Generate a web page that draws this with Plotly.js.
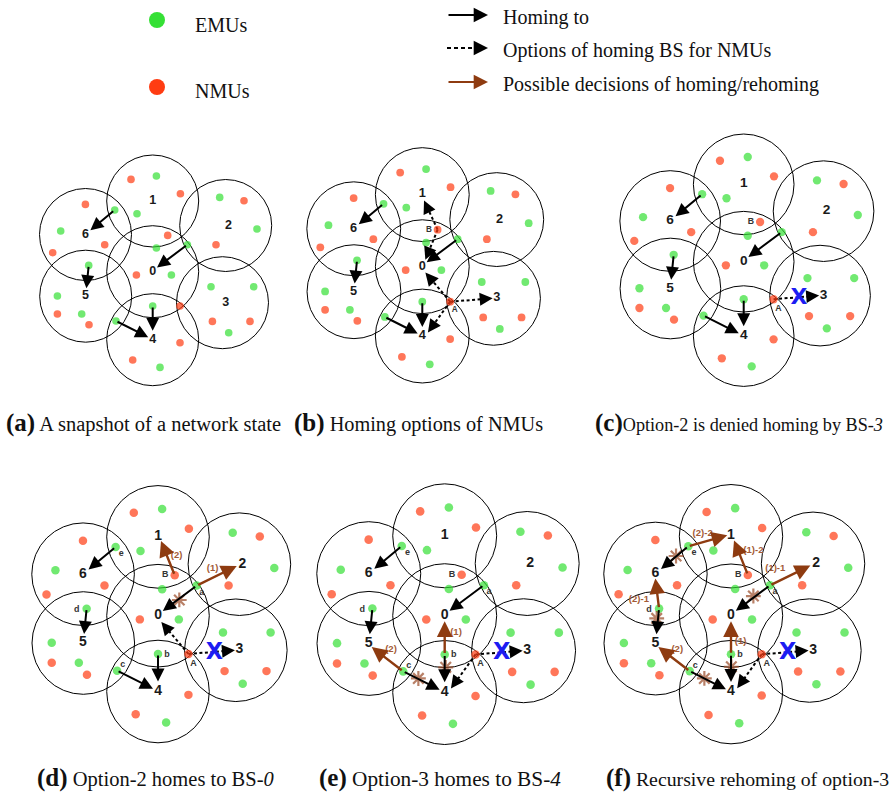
<!DOCTYPE html>
<html><head><meta charset="utf-8">
<script src="https://cdn.plot.ly/plotly-3.0.1.min.js"></script>
<style>html,body{margin:0;padding:0;background:#fff}</style>
</head><body><div id="chart" style="width:894px;height:794px"></div>
<script>
// ---------- panels ----------
const panelNames = ['a','b','c','d','e','f'];
const panelCx = [152.7, 422.3, 743.7, 158, 444.7, 731];
const panelCy = [271.7, 266.7, 261.7, 615.7, 615.7, 615.7];
const panelScale = [1.0, 1.02, 1.094, 1.115, 1.13, 1.124];

// ---------- base stations (relative to BS-0) ----------
const bsNames = ['0','1','2','3','4','5','6'];
const cellX = [0, 0, 73, 69.8, 0, -67, -67.2];
const cellY = [0, -70.7, -46.2, 31, 68, 24.5, -37.2];
const cellR = 46;
const bsLabelX = [0, 0, 75.7, 73, 0, -67.3, -67.3];
const bsLabelY = [0, -71, -46.3, 30.7, 67.7, 24.3, -37.3];

// ---------- mobile users ----------
const emuX = [3.7, -15.7, -38, -92, 3.7, 34.7, 18.7, 0, 67, 104.3, 58.3, 101, 76, -64, -95.3, -71, -36.7, 7.3];
const emuY = [-95.7, -58, -61.7, -40.7, -23.7, -27, 3.3, 34.3, -74.3, -42.7, 15, 15, 61, -6.3, 24.3, 42.3, 49.3, 95.7];
const nmuX = [-21.7, 27.7, -67.3, -48, -100, 15, -16.3, 27.3, 91.3, 63.3, 59.7, 97.3, -95.3, -63.7, 27.3, -20];
const nmuY = [-92.3, -78, -67.3, -27, -19, -36.3, 3.3, 34.3, -71, -27, 49.7, 49.7, 42.3, 53, 71, 88.3];

// named users
const userNames = ['a','b','c','d','e','A','B'];
const userX = [34.7, 0, -36.7, -64, -38, 27.3, 15];
const userY = [-27, 34.3, 49.3, -6.3, -61.7, 34.3, -36.3];
const userLabelDX = [4.5, 8, 5, -9, 5, 4.5, -8.5];
const userLabelDY = [6, 0.5, -5, 1, 6, 8.5, 0];
const panelUserLabels = [[], ['A','B'], ['A','B'], ['a','b','c','d','e','A','B'], ['a','b','c','d','e','A','B'], ['a','b','c','d','e','A','B']];

// ---------- arrows ----------
const arrowNames = ['e6','a0','d5','b4','c4','B1o','B0o','A0o','A3o','A4o','a2','B1','b0','c5','e1','d6'];
const arrowFrom  = ['e','a','d','b','c','B','B','A','A','A','a','B','b','c','e','d'];
const arrowTipX  = [-62.3, 4.3, -66.3, 0, -4.5, 1.7, 3, 3, 69, 5.5, 70.6, 2.7, 0, -64.6, -3.3, -67.3];
const arrowTipY  = [-41.5, -4.3, 16.5, 59, 65.5, -65, -6.7, 5.7, 31, 64.5, -44.6, -67, 5, 27.8, -71.5, -33.2];
const arrowKind  = ['home','home','home','home','home','option','option','option','option','option','decision','decision','decision','decision','decision','decision'];
const panelArrows = [
  ['e6','a0','d5','b4','c4'],
  ['e6','a0','d5','b4','c4','B1o','B0o','A0o','A3o','A4o'],
  ['e6','a0','d5','b4','c4','A3o'],
  ['e6','a0','d5','b4','c4','A0o','A3o','a2','B1'],
  ['e6','a0','d5','b4','c4','A4o','A3o','b0','c5'],
  ['e6','a0','d5','b4','c4','A4o','A3o','a2','B1','b0','c5','e1','d6']
];

// crossed-out (abandoned) homings
const starPanel = [3, 4, 4, 5, 5, 5, 5, 5];
const starX = [19.1, 0.9, -23.3, -48.9, 19.9, -66.1, 0.3, -23.7];
const starY = [-14.1, 45.7, 55.5, -53.1, -17.5, 2.4, 45.4, 55.8];

// denial marks
const denyPanel = [2, 3, 4, 5];
const denyX = [50.5, 50.5, 50.5, 50.5];
const denyY = [33.4, 33.4, 33.4, 33.4];

// decision labels
const decPanel = [3, 3, 4, 4, 5, 5, 5, 5, 5, 5];
const decText = ['(1)', '(2)', '(1)', '(2)', '(2)-2', '(1)-2', '(1)-1', '(2)-1', '(1)', '(2)'];
const decX = [49, 16.7, 10, -47.5, -25.2, 19.9, 39.4, -81.9, 8.6, -47.8];
const decY = [-41.9, -54.1, 15.3, 30.4, -73.2, -57.5, -41.5, -14.5, 23.1, 30.5];

// captions
const capLetters = ['(a)', '(b)', '(c)', '(d)', '(e)', '(f)'];
const capTexts = [' A snapshot of a network state', ' Homing options of NMUs', 'Option-2 is denied homing by BS-<i>3</i>',
                  ' Option-2 homes to BS-<i>0</i>', ' Option-3 homes to BS-<i>4</i>', ' Recursive rehoming of option-3'];
const capX = [4, 292, 593, 35, 317, 604];
const capY = [423, 423, 423, 778, 778, 778];
const capSize = [20.5, 20.3, 18.2, 20.5, 21.3, 19.8];

// legend
const legendDots = ['EMUs', 'NMUs'];
const legendArrows = ['Homing to', 'Options of homing BS for NMUs', 'Possible decisions of homing/rehoming'];

// ---------- styles ----------
const GREEN = '#35e035', RED = '#ff3c12', BROWN = '#8e3b10', BROWNTXT = '#a35a36', BLUE = '#1c1cf2';
const kindColor = {home: '#000', option: '#000', decision: BROWN};
const HEAD = 1.3;

function P(p, x, y) { const s = panelScale[p]; return [panelCx[p] + s * x, panelCy[p] + s * y]; }
function uIdx(n) { return userNames.indexOf(n); }

const shapes = [];
const annotations = [];
const traces = [];

// cells
for (let p = 0; p < 6; p++) {
  const s = panelScale[p];
  for (let i = 0; i < cellX.length; i++) {
    const [cx, cy] = P(p, cellX[i], cellY[i]);
    const r = cellR * s;
    shapes.push({type: 'circle', xref: 'x', yref: 'y', x0: cx - r, x1: cx + r, y0: cy - r, y1: cy + r,
      line: {color: '#000', width: 1}, layer: 'below'});
  }
}

function headOnly(x1, y1, ux, uy, col, w) {
  annotations.push({x: x1, y: y1, ax: x1 - ux * 13, ay: y1 - uy * 13, xref: 'x', yref: 'y', axref: 'x', ayref: 'y',
    text: '', showarrow: true, arrowhead: 2, arrowsize: HEAD, arrowwidth: w, arrowcolor: col});
}

// arrows
const dashX = [], dashY = [];
for (let p = 0; p < 6; p++) {
  panelArrows[p].forEach(name => {
    const k = arrowNames.indexOf(name);
    const u = uIdx(arrowFrom[k]);
    const [x0, y0] = P(p, userX[u], userY[u]);
    const [x1, y1] = P(p, arrowTipX[k], arrowTipY[k]);
    const col = kindColor[arrowKind[k]];
    const w = arrowKind[k] === 'decision' ? 2.4 : 2;
    if (arrowKind[k] === 'option') {
      const L = Math.hypot(x1 - x0, y1 - y0);
      const ux = (x1 - x0) / L, uy = (y1 - y0) / L;
      dashX.push(x0, x1 - ux * 8, null); dashY.push(y0, y1 - uy * 8, null);
      headOnly(x1, y1, ux, uy, col, 2);
    } else {
      annotations.push({x: x1, y: y1, ax: x0, ay: y0, xref: 'x', yref: 'y', axref: 'x', ayref: 'y',
        text: '', showarrow: true, arrowhead: 2, arrowsize: HEAD, arrowwidth: w, arrowcolor: col});
    }
  });
}
traces.push({x: dashX, y: dashY, mode: 'lines', line: {color: '#000', width: 2, dash: '3px,2.5px'}, hoverinfo: 'skip'});

// users
function dotTrace(xs, ys, color) {
  const X = [], Y = [], S = [];
  for (let p = 0; p < 6; p++) for (let i = 0; i < xs.length; i++) {
    const [x, y] = P(p, xs[i], ys[i]); X.push(x); Y.push(y); S.push(7.6 * panelScale[p]);
  }
  return {x: X, y: Y, mode: 'markers', marker: {color: color, size: S, line: {width: 0}}, hoverinfo: 'skip'};
}
traces.push(dotTrace(emuX, emuY, GREEN));
traces.push(dotTrace(nmuX, nmuY, RED));

// BS labels
{
  const X = [], Y = [], T = [], S = [];
  for (let p = 0; p < 6; p++) for (let i = 0; i < bsNames.length; i++) {
    const [x, y] = P(p, bsLabelX[i], bsLabelY[i]); X.push(x); Y.push(y); T.push('<b>' + bsNames[i] + '</b>'); S.push(12.5 * panelScale[p]);
  }
  traces.push({x: X, y: Y, mode: 'text', text: T, textposition: 'middle center',
    textfont: {family: 'Liberation Sans, Arial, sans-serif', size: S, color: '#1a1a1a'}, hoverinfo: 'skip'});
}
// user labels
{
  const X = [], Y = [], T = [], S = [];
  for (let p = 0; p < 6; p++) panelUserLabels[p].forEach(n => {
    const u = uIdx(n);
    const [x, y] = P(p, userX[u] + userLabelDX[u], userY[u] + userLabelDY[u]);
    X.push(x); Y.push(y); T.push('<b>' + n + '</b>'); S.push(8 * panelScale[p]);
  });
  traces.push({x: X, y: Y, mode: 'text', text: T, textposition: 'middle center',
    textfont: {family: 'Liberation Sans, Arial, sans-serif', size: S, color: '#333'}, hoverinfo: 'skip'});
}
// decision labels
{
  const X = [], Y = [], T = [], S = [];
  decPanel.forEach((p, i) => { const [x, y] = P(p, decX[i], decY[i]); X.push(x); Y.push(y); T.push('<b>' + decText[i] + '</b>'); S.push(8.5 * panelScale[p]); });
  traces.push({x: X, y: Y, mode: 'text', text: T, textposition: 'middle center',
    textfont: {family: 'Liberation Sans, Arial, sans-serif', size: S, color: BROWNTXT}, hoverinfo: 'skip'});
}
// stars
{
  const X = [], Y = [], S = [];
  starPanel.forEach((p, i) => { const [x, y] = P(p, starX[i], starY[i]); X.push(x); Y.push(y); S.push(11 * panelScale[p]); });
  traces.push({x: X, y: Y, mode: 'markers', marker: {symbol: 'asterisk-open', size: S, color: '#9a4a26', line: {color: '#9a4a26', width: 2.2}}, hoverinfo: 'skip'});
}
// denial X
{
  const X = [], Y = [], S = [];
  denyPanel.forEach((p, i) => { const [x, y] = P(p, denyX[i], denyY[i]); X.push(x); Y.push(y); S.push(20 * panelScale[p]); });
  traces.push({x: X, y: Y, mode: 'text', text: X.map(() => '<b>X</b>'), textposition: 'middle center',
    textfont: {family: 'DejaVu Sans, sans-serif', size: S, color: BLUE}, hoverinfo: 'skip'});
}

// legend
traces.push({x: [157, 157], y: [20, 87], mode: 'markers', marker: {color: [GREEN, RED], size: 16}, hoverinfo: 'skip'});
const serif = 'Liberation Serif, Times New Roman, serif';
annotations.push({x: 193, y: 25, xref: 'x', yref: 'y', text: legendDots[0], showarrow: false, xanchor: 'left', yanchor: 'middle', font: {family: serif, size: 20, color: '#111'}});
annotations.push({x: 193, y: 91, xref: 'x', yref: 'y', text: legendDots[1], showarrow: false, xanchor: 'left', yanchor: 'middle', font: {family: serif, size: 20, color: '#111'}});
const legY = [15, 48, 82];
legendArrows.forEach((t, i) => {
  annotations.push({x: 501, y: legY[i] + 2, xref: 'x', yref: 'y', text: t, showarrow: false, xanchor: 'left', yanchor: 'middle', font: {family: serif, size: 20, color: '#111'}});
});
annotations.push({x: 488, y: 15, ax: 447, ay: 15, xref: 'x', yref: 'y', axref: 'x', ayref: 'y', text: '', showarrow: true, arrowhead: 2, arrowsize: HEAD, arrowwidth: 2.2, arrowcolor: '#000'});
traces.push({x: [447, 479], y: [48, 48], mode: 'lines', line: {color: '#000', width: 2.2, dash: '4px,3px'}, hoverinfo: 'skip'});
headOnly(488, 48, 1, 0, '#000', 2.2);
annotations.push({x: 488, y: 82, ax: 447, ay: 82, xref: 'x', yref: 'y', axref: 'x', ayref: 'y', text: '', showarrow: true, arrowhead: 2, arrowsize: HEAD, arrowwidth: 2.2, arrowcolor: BROWN});

// captions
capLetters.forEach((l, i) => {
  annotations.push({x: capX[i], y: capY[i], xref: 'x', yref: 'y', xanchor: 'left', yanchor: 'middle', showarrow: false,
    text: '<b><span style="font-size:25px">' + l + '</span></b>' + capTexts[i], font: {family: serif, size: capSize[i], color: '#111'}});
});

const layout = {
  width: 894, height: 794, margin: {l: 0, r: 0, t: 0, b: 0},
  paper_bgcolor: '#fff', plot_bgcolor: '#fff', showlegend: false, hovermode: false,
  xaxis: {range: [0, 894], visible: false, fixedrange: true},
  yaxis: {range: [794, 0], visible: false, fixedrange: true},
  shapes: shapes, annotations: annotations
};
Plotly.newPlot('chart', traces, layout, {staticPlot: true, displayModeBar: false});
</script></body></html>
